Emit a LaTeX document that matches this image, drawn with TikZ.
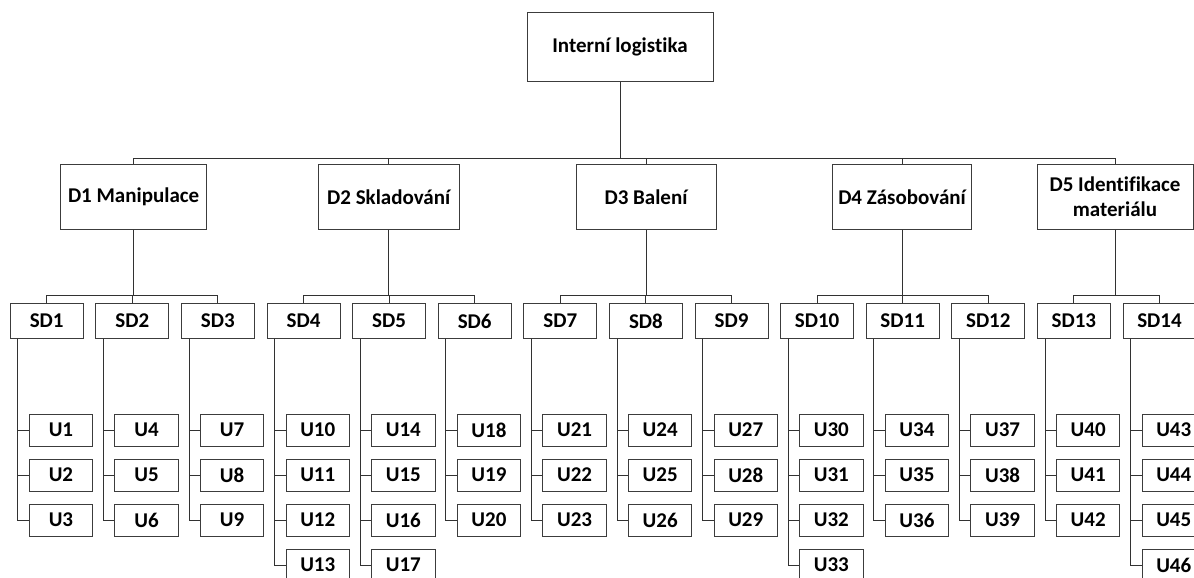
\documentclass[tikz,border=0pt]{standalone}
\usepackage{fontspec}
\setmainfont{Carlito}[Ligatures=NoCommon]
\usetikzlibrary{positioning}
\definecolor{ramecek}{RGB}{60,60,60}
\definecolor{spoj}{RGB}{50,50,50}
\tikzset{
  popisek/.style={font=\bfseries\fontsize{21}{25}\selectfont, text=black, align=center, inner sep=0pt},
  hlavni/.style={popisek, rectangle, draw=ramecek, line width=0.9pt, minimum width=186pt, minimum height=69pt},
  oblast/.style={popisek, rectangle, draw=ramecek, line width=0.9pt, minimum height=65pt},
  podoblast/.style={popisek, rectangle, draw=ramecek, line width=0.9pt, minimum width=73pt, minimum height=35pt},
  ukon/.style={popisek, rectangle, draw=ramecek, line width=0.9pt, minimum width=63.5pt, minimum height=32pt},
  vetev/.style={draw=spoj, line width=0.9pt}
}

\begin{document}
\begin{tikzpicture}[x=1pt, y=-1pt]
  \clip (0,0) rectangle (1194,578);
  % Koren a oblasti
  \node[hlavni] (il) at (620,46.7) {Interní logistika};
  \node[oblast, minimum width=146pt] (d1) at (133.6,197) {D1 Manipulace};
  \node[oblast, minimum width=141pt] (d2) at (388.7,197) {D2 Skladování};
  \node[oblast, minimum width=140pt] (d3) at (646,197) {D3 Balení};
  \node[oblast, minimum width=139pt] (d4) at (902,197) {D4 Zásobování};
  \node[oblast, minimum width=156pt] (d5) at (1115,197) {D5 Identifikace\\materiálu};

  \coordinate (sbernice) at (620,158);
  \draw[vetev] (il.south) -- (sbernice);
  \draw[vetev] (d1.north) -- (d1.north |- sbernice) -- (d5.north |- sbernice) -- (d5.north);
  \foreach \d in {d2,d3,d4}
    \draw[vetev] (\d.north) -- (\d.north |- sbernice);

  % Podoblasti
  \foreach \i in {1,...,14}
    \node[podoblast] (sd\i) at ({46.7+85.6*(\i-1)},321) {SD\i};

  \foreach \d/\a/\b in {d1/1/3, d2/4/6, d3/7/9, d4/10/12, d5/13/14} {
    \draw[vetev] (sd\a.north) -- ++(0,-7.5) coordinate (b\d) -| (sd\b.north);
    \draw[vetev] (\d.south) -- (\d.south |- b\d);
    \foreach \s in {\a,...,\b}
      \draw[vetev] (sd\s.north) -- (sd\s.north |- b\d);
  }

  % Ukony
  \foreach \s/\prvni/\pocet in {1/1/3, 2/4/3, 3/7/3, 4/10/4, 5/14/4, 6/18/3, 7/21/3,
      8/24/3, 9/27/3, 10/30/4, 11/34/3, 12/37/3, 13/40/3, 14/43/4} {
    \coordinate (v\s) at ([xshift=8pt]sd\s.south west);
    \foreach \k in {1,...,\pocet} {
      \pgfmathtruncatemacro\u{\prvni+\k-1}
      \path (sd\s.west) ++(19,{64+45*\k}) node[ukon, anchor=west] (u\u) {U\u};
      \draw[vetev] (v\s) |- (u\u.west);
    }
  }
\end{tikzpicture}
\end{document}
